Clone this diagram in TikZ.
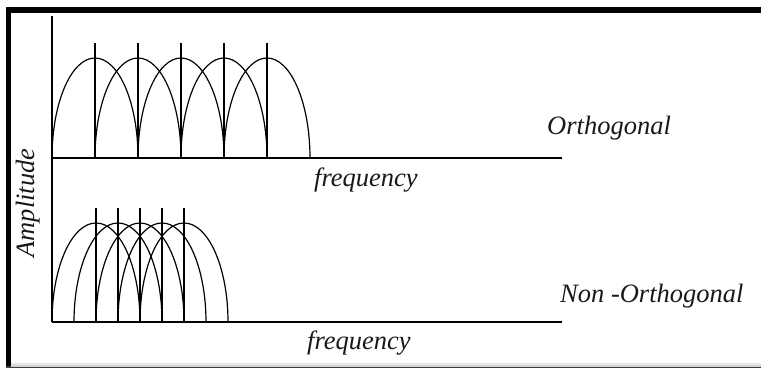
\documentclass[tikz,border=0pt]{standalone}
\usepackage{fontspec}
\setmainfont{Liberation Serif}
\begin{document}
\begin{tikzpicture}[x=1pt,y=1pt,
  curve/.style={line width=1.2pt,black},
  axisline/.style={line width=1.3pt,black},
  lbl/.style={inner sep=0pt,font=\fontsize{26.5}{30}\selectfont\itshape,text=black!90}]
\useasboundingbox (0,0) rectangle (761,369);
\fill[white] (0,0) rectangle (761,369);
% frame: heavy top and left edges, thin bottom edge
\fill[black] (6,2) rectangle (11,362);
\fill[black] (6,356) rectangle (761,362);
\fill[black!75] (6,0.5) rectangle (761,2.5);
\shade[top color=white,bottom color=black!20] (11,2.5) rectangle (761,8);

% amplitude axis shared by both plots
\draw[axisline] (52,353) -- (52,47);

% ---- orthogonal sub-carriers ----
\draw[axisline] (52,211) -- (562,211);
\foreach \c in {95,138,181,224,267}{
  \draw[curve] (\c-43,211) arc[start angle=180,end angle=0,x radius=43,y radius=100];
  \draw[curve] (\c,211) -- (\c,326);
}

% ---- non-orthogonal sub-carriers ----
\draw[axisline] (52,47) -- (562,47);
\foreach \c in {96,118,140,162,184}{
  \draw[curve] (\c-44,47) arc[start angle=180,end angle=0,x radius=44,y radius=99];
  \draw[curve] (\c,47) -- (\c,161);
}

% labels
\node[lbl,anchor=base west] (orth) at (547,234) {Orthogonal};
\node[lbl,anchor=base west] (nonorth) at (560,66) {Non -Orthogonal};
\node[lbl,anchor=base west] (f1) at (314,182) {frequency};
\node[lbl,anchor=base west] (f2) at (307,19) {frequency};
\node[lbl,anchor=base,rotate=90] (amp) at (35,166) {Amplitude};
\end{tikzpicture}
\end{document}
